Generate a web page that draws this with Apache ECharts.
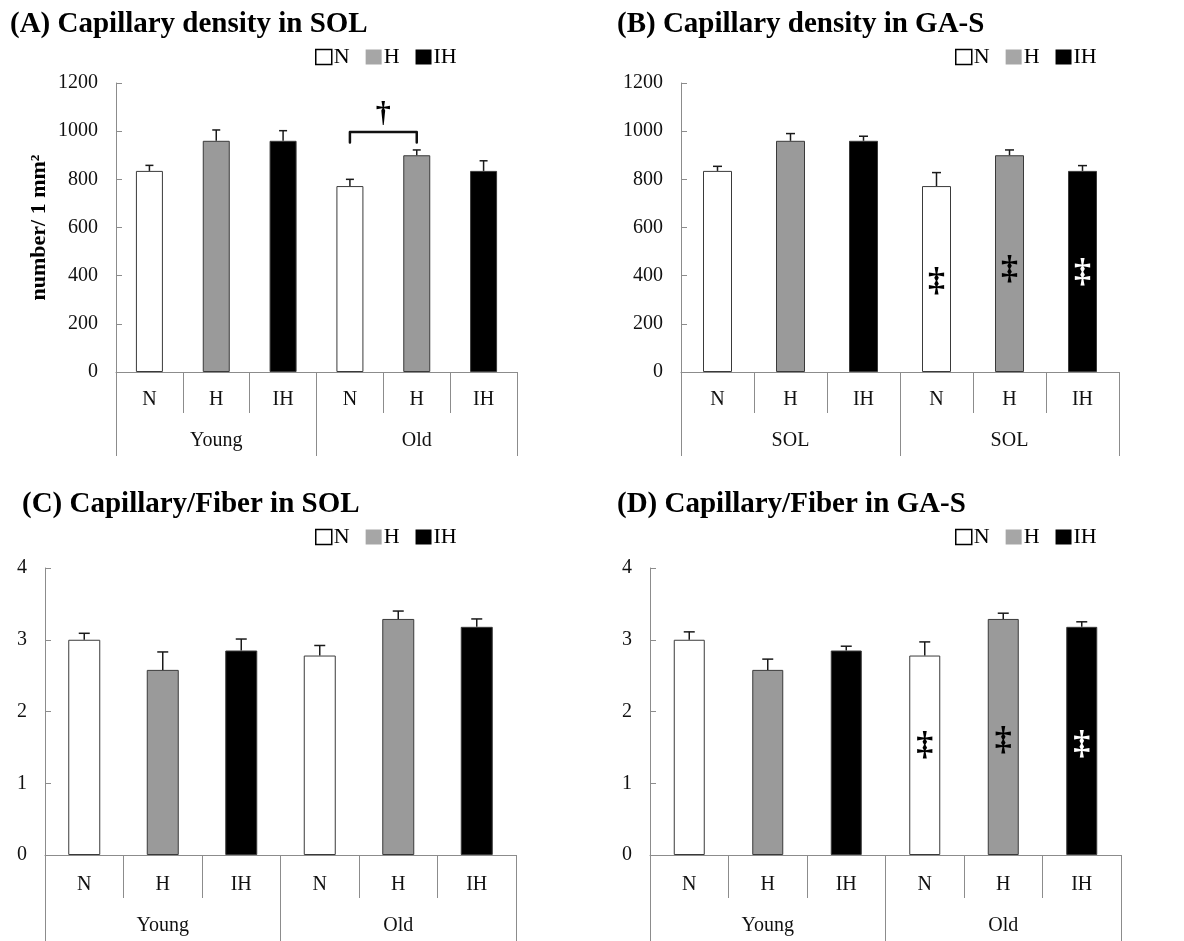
<!DOCTYPE html>
<html>
<head>
<meta charset="utf-8">
<script src="https://cdn.jsdelivr.net/npm/echarts@6/dist/echarts.min.js"></script>
<style>html,body{margin:0;padding:0;background:#fff}#c{width:1184px;height:941px}</style>
</head>
<body>
<div id="c"></div>
<script>
// ---- data ----
const categories = ['N', 'H', 'IH', 'N', 'H', 'IH'];
const groupsAge = ['Young', 'Old'];
const groupsSOL = ['SOL', 'SOL'];
const seriesNames = ['N', 'H', 'IH'];
const densityTicks = [0, 200, 400, 600, 800, 1000, 1200];
const ratioTicks = [0, 1, 2, 3, 4];

const densSOL    = [835, 960, 960, 772, 900, 835];
const densSOLErr = [23, 45, 42, 28, 22, 42];
const densGAS    = [835, 960, 960, 772, 900, 835];
const densGASErr = [19, 30, 19, 56, 22, 22];
const fibSOL     = [3.00, 2.58, 2.85, 2.78, 3.29, 3.18];
const fibSOLErr  = [0.09, 0.25, 0.16, 0.14, 0.11, 0.11];
const fibGAS     = [3.00, 2.58, 2.85, 2.78, 3.29, 3.18];
const fibGASErr  = [0.11, 0.15, 0.06, 0.19, 0.08, 0.07];

// significance marks
const bracketIdxA = [3, 4];        // Old N vs Old H
const bracketYA = [997, 953];      // bracket top, leg end
const daggerYA = 1070;
const ddaggerIdx = [3, 4, 5];
const ddaggerB = [373, 423, 411];
const ddaggerD = [1.51, 1.58, 1.53];

// ---- styles ----
const FONT = '"Liberation Serif", "Times New Roman", serif';
const fills = { N: '#ffffff', H: '#9a9a9a', IH: '#000000' };
const legendFills = { N: '#ffffff', H: '#a6a6a6', IH: '#000000' };
const AXIS = '#8c8c8c';

const panels = [
  { title: '(A) Capillary density in SOL', tl: 10, tt: 10, grid: { left: 116, top: 83, width: 401, height: 289 },
    vals: densSOL, errs: densSOLErr, ticks: densityTicks, groups: groupsAge, barW: 27, cap: 4,
    legend: { left: 315, top: 46 }, t1: 41, m1: 18, t2: 84, m2: 59, yname: true },
  { title: '(B) Capillary density in GA-S', tl: 617, tt: 10, grid: { left: 681, top: 83, width: 438, height: 289 },
    vals: densGAS, errs: densGASErr, ticks: densityTicks, groups: groupsSOL, barW: 29, cap: 4.5,
    legend: { left: 955, top: 46 }, t1: 41, m1: 18, t2: 84, m2: 59 },
  { title: '(C) Capillary/Fiber in SOL', tl: 22, tt: 490, grid: { left: 45, top: 568, width: 471, height: 287 },
    vals: fibSOL, errs: fibSOLErr, ticks: ratioTicks, groups: groupsAge, barW: 32, cap: 5.5,
    legend: { left: 315, top: 526 }, t1: 43, m1: 20, t2: 86, m2: 61 },
  { title: '(D) Capillary/Fiber in GA-S', tl: 617, tt: 490, grid: { left: 650, top: 568, width: 471, height: 287 },
    vals: fibGAS, errs: fibGASErr, ticks: ratioTicks, groups: groupsAge, barW: 31, cap: 5.5,
    legend: { left: 955, top: 526 }, t1: 43, m1: 20, t2: 86, m2: 61 }
];

const option = {
  backgroundColor: '#fff',
  animation: false,
  title: [], grid: [], xAxis: [], yAxis: [], legend: [], series: []
};

function errRender(capHalf) {
  return function (params, api) {
    const i = api.value(0), v = api.value(1), e = api.value(2);
    const a = api.coord([i, v]), b = api.coord([i, v + e]);
    const st = { stroke: '#1a1a1a', lineWidth: 1.5 };
    return { type: 'group', children: [
      { type: 'line', shape: { x1: a[0], y1: a[1], x2: b[0], y2: b[1] }, style: st },
      { type: 'line', shape: { x1: b[0] - capHalf, y1: b[1], x2: b[0] + capHalf, y2: b[1] }, style: st }
    ] };
  };
}

panels.forEach((p, g) => {
  option.title.push({ text: p.title, left: p.tl, top: p.tt, padding: 0,
    textStyle: { fontFamily: FONT, fontSize: 29, fontWeight: 'bold', color: '#000' } });
  option.grid.push(Object.assign({ containLabel: false }, p.grid));
  const tmax = p.ticks[p.ticks.length - 1];
  option.yAxis.push({
    type: 'value', gridIndex: g, min: p.ticks[0], max: tmax, interval: p.ticks[1] - p.ticks[0],
    axisLine: { show: true, lineStyle: { color: AXIS, width: 1 } },
    axisTick: { show: true, inside: true, length: 6, lineStyle: { color: AXIS } },
    splitLine: { show: false },
    axisLabel: { fontFamily: FONT, fontSize: 20, color: '#111', margin: 18, formatter: v => String(v) },
    name: p.yname ? 'number/ 1 mm²' : '', nameLocation: 'middle', nameRotate: 90, nameGap: 66,
    nameTextStyle: { fontFamily: FONT, fontSize: 22, fontWeight: 'bold', color: '#000' }
  });
  const xi = option.xAxis.length;
  option.xAxis.push({
    type: 'category', gridIndex: g, data: categories, position: 'bottom', boundaryGap: true,
    axisLine: { show: true, lineStyle: { color: AXIS, width: 1 } },
    axisTick: { show: true, interval: 0, length: p.t1, lineStyle: { color: AXIS } },
    axisLabel: { interval: 0, margin: p.m1, fontFamily: FONT, fontSize: 20, color: '#111' }
  });
  option.xAxis.push({
    type: 'category', gridIndex: g, data: p.groups, position: 'bottom', offset: 0, boundaryGap: true,
    axisLine: { show: false },
    axisTick: { show: true, interval: 0, length: p.t2, lineStyle: { color: AXIS } },
    axisLabel: { interval: 0, margin: p.m2, fontFamily: FONT, fontSize: 20, color: '#111' }
  });
  option.legend.push(Object.assign({
    orient: 'horizontal', icon: 'rect', itemWidth: 16, itemHeight: 15, itemGap: 16, padding: 0,
    selectedMode: false,
    textStyle: { fontFamily: FONT, fontSize: 22, color: '#000', padding: [0, 0, 0, -3] },
    data: seriesNames.map(n => ({ name: n, itemStyle: { color: legendFills[n],
      borderColor: n === 'N' ? '#000' : legendFills[n], borderWidth: n === 'N' ? 1.5 : 0 } }))
  }, p.legend));
  seriesNames.forEach(name => {
    option.series.push({
      type: 'bar', name: name, xAxisIndex: xi, yAxisIndex: g, barWidth: p.barW, barGap: '-100%',
      data: categories.map((c, i) => c === name ? p.vals[i] : '-'),
      itemStyle: { color: fills[name], borderColor: '#3a3a3a', borderWidth: 1 },
      emphasis: { disabled: true }
    });
  });
  option.series.push({
    type: 'custom', xAxisIndex: xi, yAxisIndex: g, z: 5, renderItem: errRender(p.cap),
    encode: { x: 0, y: 1 }, silent: true,
    data: p.vals.map((v, i) => [i, v, p.errs[i]])
  });
});

// bracket + dagger in panel A
option.series.push({
  type: 'custom', xAxisIndex: 0, yAxisIndex: 0, z: 6, silent: true, encode: { x: 0, y: 1 },
  data: [[bracketIdxA[0], bracketYA[0]]],
  renderItem: function (params, api) {
    const p1 = api.coord([bracketIdxA[0], bracketYA[1]]);
    const p2 = api.coord([bracketIdxA[0], bracketYA[0]]);
    const p3 = api.coord([bracketIdxA[1], bracketYA[0]]);
    const p4 = api.coord([bracketIdxA[1], bracketYA[1]]);
    const dy = api.coord([bracketIdxA[0], daggerYA])[1];
    const dx = (p2[0] + p3[0]) / 2;
    return { type: 'group', children: [
      { type: 'polyline', shape: { points: [p1, p2, p3, p4] },
        style: { stroke: '#111', lineWidth: 2.5, fill: null, lineJoin: 'round', lineCap: 'round' } },
      { type: 'text', x: dx, y: dy, style: { text: '†', fill: '#000', fontSize: 30, fontWeight: 'bold',
        fontFamily: FONT, align: 'center', verticalAlign: 'middle' } }
    ] };
  }
});

function ddRender(params, api) {
  const i = api.value(0), v = api.value(1);
  const c = api.coord([i, v]);
  const col = categories[i] === 'IH' ? '#fff' : '#000';
  return { type: 'text', x: c[0], y: c[1], style: { text: '‡', fill: col, fontSize: 34, fontWeight: 'bold',
    fontFamily: FONT, align: 'center', verticalAlign: 'middle' } };
}
option.series.push({
  type: 'custom', xAxisIndex: 2, yAxisIndex: 1, z: 6, silent: true, encode: { x: 0, y: 1 },
  renderItem: ddRender, data: ddaggerIdx.map((x, k) => [x, ddaggerB[k]])
});
option.series.push({
  type: 'custom', xAxisIndex: 6, yAxisIndex: 3, z: 6, silent: true, encode: { x: 0, y: 1 },
  renderItem: ddRender, data: ddaggerIdx.map((x, k) => [x, ddaggerD[k]])
});

const chart = echarts.init(document.getElementById('c'), null, { renderer: 'canvas' });
chart.setOption(option);
</script>
</body>
</html>
